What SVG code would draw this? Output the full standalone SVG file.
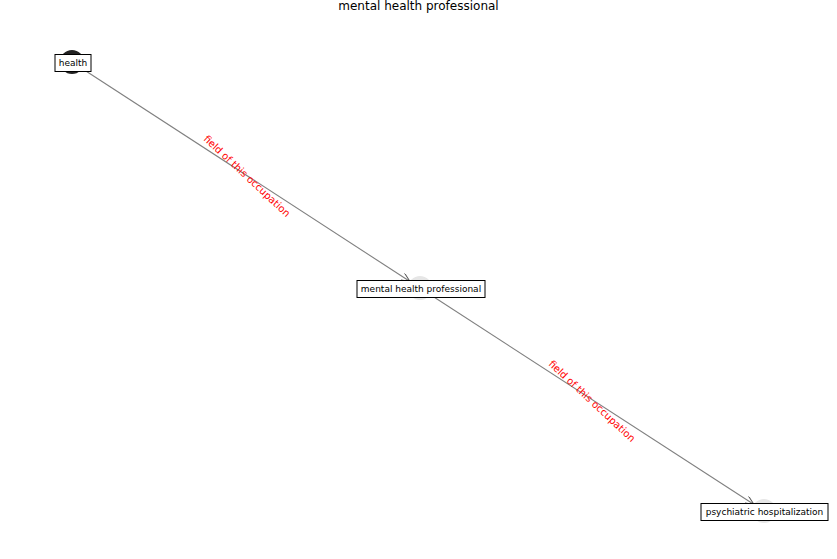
<svg xmlns="http://www.w3.org/2000/svg" width="837" height="559" viewBox="0 0 837 559">
<style>
.lbl{font-family:"DejaVu Sans",sans-serif;font-size:9px;fill:#000;text-anchor:middle;dominant-baseline:central}
.box{fill:#fff;stroke:#000;stroke-width:1}
.edge{stroke:#808080;stroke-width:1.1;fill:none}
.elbl{font-family:"DejaVu Sans",sans-serif;font-size:10px;fill:#ff0000;text-anchor:middle;dominant-baseline:central}
</style>
<defs>
<marker id="arr" markerWidth="10" markerHeight="8" refX="9" refY="4" orient="auto" markerUnits="userSpaceOnUse">
<path d="M0,0 L9,4 L0,8" fill="none" stroke="#555" stroke-width="1"/>
</marker>
</defs>
<rect width="837" height="559" fill="#fff"/>
<text x="418.5" y="6" font-family="DejaVu Sans,sans-serif" font-size="12" text-anchor="middle" dominant-baseline="central">mental health professional</text>
<g id="connectors">
<line class="edge" x1="72" y1="62" x2="410" y2="281.5" marker-end="url(#arr)"/>
<line class="edge" x1="420" y1="288" x2="754" y2="504.5" marker-end="url(#arr)"/>
<text class="elbl" transform="translate(247,176) rotate(43)">field of this occupation</text>
<text class="elbl" transform="translate(592,401) rotate(43)">field of this occupation</text>
</g>
<g id="health">
<circle cx="72" cy="62" r="12" fill="#222"/>
<rect class="box" x="55" y="54.5" width="36" height="17"/>
<text class="lbl" x="73" y="63">health</text>
</g>
<g id="mental-health-professional">
<circle cx="420" cy="288" r="12" fill="#e6e6e6"/>
<rect class="box" x="357" y="280.5" width="128" height="17"/>
<text class="lbl" x="421" y="289">mental health professional</text>
</g>
<g id="psychiatric-hospitalization">
<circle cx="764" cy="511" r="12" fill="#e6e6e6"/>
<rect class="box" x="701" y="503.5" width="127" height="17"/>
<text class="lbl" x="764.5" y="512">psychiatric hospitalization</text>
</g>
</svg>
